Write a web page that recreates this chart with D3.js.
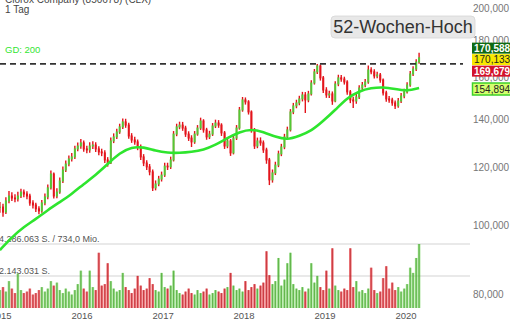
<!DOCTYPE html>
<html><head><meta charset="utf-8">
<script src="https://cdn.jsdelivr.net/npm/d3@7"></script>
<style>
body{margin:0;background:#fff;overflow:hidden}
svg{display:block}
text{font-family:"Liberation Sans",Arial,sans-serif}
</style>
</head><body>
<svg id="c" width="510" height="320"></svg>
<script>
// ---------- data ----------
const titleText = "Clorox Company (850678) (CLX)";
const periodText = "1 Tag";
const maLabel = "GD: 200";
const highLabel = "52-Wochen-Hoch";
const startDate = new Date(2014, 11, 27);
const stepDays = 13.5;
// closing prices (bi-weekly samples)
const closes = [
105.9,104.2,108.0,109.7,109.0,108.7,109.7,111.1,110.4,109.7,
107.3,106.6,105.3,104.6,107.3,109.4,112.6,117.7,109.7,111.1,
115.1,119.2,121.5,123.5,124.3,127.5,128.7,130.0,127.5,127.1,
128.7,129.1,127.5,126.3,125.9,123.1,121.9,130.8,132.5,134.6,
136.8,139.0,137.6,132.9,131.2,130.4,128.3,124.3,121.9,120.4,
118.5,112.6,114.0,115.8,117.3,120.7,120.4,123.1,133.7,136.8,
137.6,136.3,133.7,132.0,130.4,133.7,136.3,139.4,135.5,132.5,
133.7,137.2,138.5,137.6,134.2,128.7,130.8,125.9,132.0,136.3,
144.4,149.1,148.2,143.5,135.5,128.7,130.8,130.0,127.1,123.1,
115.5,118.1,121.1,125.5,128.3,132.5,135.5,143.5,146.3,147.7,
149.6,151.5,149.1,152.0,157.4,163.1,166.2,160.0,153.9,151.5,
152.0,148.6,156.9,160.0,159.4,157.9,153.0,149.1,148.6,150.5,
154.9,156.4,157.9,164.1,163.1,161.0,161.5,158.9,152.5,149.6,
149.1,147.7,146.3,148.6,151.0,153.0,156.4,162.0,164.6,168.3,
170.588];
const highs = [
107.6,107.0,109.3,111.5,111.0,110.3,111.2,112.3,112.0,111.4,
110.5,108.2,107.4,106.2,108.3,110.6,113.8,119.0,118.3,112.5,
116.4,120.5,122.9,124.9,125.9,128.8,130.2,131.6,131.0,128.8,
130.3,130.7,130.3,128.6,127.6,127.0,124.2,132.2,134.0,136.0,
138.2,140.5,140.4,138.6,134.1,132.6,131.4,129.3,125.4,123.0,
121.5,119.4,115.3,117.0,118.6,122.0,122.0,124.4,135.0,138.2,
139.1,139.0,137.3,134.9,133.2,135.0,137.6,140.9,140.2,136.4,
135.1,138.5,140.0,139.8,138.4,135.0,132.1,131.6,133.3,137.6,
145.8,150.5,150.3,149.0,144.2,136.3,132.2,132.3,131.0,128.0,
123.9,119.4,122.4,126.8,129.6,133.8,136.9,144.8,147.7,149.2,
151.1,153.0,152.9,153.5,158.8,164.6,167.3,167.0,160.9,155.3,
153.6,153.2,158.3,161.6,161.5,160.6,158.8,153.9,150.6,152.0,
156.3,157.9,159.4,166.4,165.5,164.4,163.1,162.5,159.7,153.5,
151.0,150.2,148.8,150.0,152.4,154.5,157.8,163.5,166.0,169.8,
173.3];
const lows = [
104.0,102.7,103.6,107.2,108.0,107.5,107.8,109.0,109.3,108.6,
106.3,105.4,104.2,103.5,104.0,106.5,108.6,112.0,108.8,108.9,
110.5,114.4,118.4,120.6,122.5,123.5,126.6,127.6,126.4,125.8,
126.0,127.5,126.3,125.0,124.6,121.9,120.5,121.5,129.9,131.6,
133.8,135.9,136.4,131.7,130.0,129.2,127.0,123.1,120.7,119.2,
117.2,111.5,111.7,113.2,114.9,116.6,119.2,119.6,122.5,132.8,
135.8,135.1,132.5,130.8,128.3,129.6,133.0,135.5,134.3,131.3,
131.6,132.9,136.3,136.4,132.9,127.5,127.8,124.7,125.3,131.2,
135.6,143.6,146.9,142.3,134.3,127.5,127.8,128.8,125.9,121.6,
113.6,114.5,117.3,120.3,124.6,127.4,131.6,134.8,142.5,145.2,
146.6,148.4,143.0,148.0,151.2,156.6,162.0,158.6,152.5,150.1,
150.0,146.8,148.0,155.8,158.0,156.6,151.6,147.6,145.3,147.3,
149.6,153.8,155.3,157.0,161.9,159.7,159.8,157.5,151.2,148.3,
147.8,146.4,144.9,145.4,147.7,149.9,152.2,155.5,161.0,163.6,
167.4];
// 200-day moving average (every 4th sample)
const ma200 = [
92.3,96.2,99.4,101.9,104.9,107.6,110.4,114.0,117.3,121.5,
125.9,128.3,128.3,126.7,125.9,125.9,126.3,127.1,129.1,132.0,
134.6,135.9,134.6,132.5,131.2,132.9,135.0,139.4,144.4,150.1,
153.4,154.9,155.4,154.4,153.4,154.894];
// volume in million shares
const volumes = [
1.2,1.4,1.1,1.8,1.3,1.0,2.3,1.2,1.0,1.1,
1.3,0.9,1.0,1.2,1.4,1.1,1.3,1.8,1.5,1.7,
1.2,1.0,1.3,1.1,0.9,1.2,1.6,2.5,1.3,1.1,
2.5,1.4,1.2,3.7,1.5,1.6,3.0,1.8,1.3,1.1,
1.2,2.35,1.4,1.2,1.0,1.3,2.15,1.5,1.2,1.3,
2.0,1.6,1.2,1.1,2.35,1.4,1.3,1.5,2.5,1.2,
1.0,0.9,1.1,1.3,1.0,0.9,1.2,1.0,1.1,1.3,
0.9,1.0,1.2,1.1,1.0,1.3,1.4,2.35,1.5,1.2,
1.3,1.1,1.8,1.2,1.4,1.6,1.3,1.5,1.7,3.8,
2.2,1.6,1.8,3.35,1.5,1.9,3.0,3.7,1.6,1.3,
1.2,1.4,1.1,1.3,3.0,1.7,2.15,1.4,1.2,2.5,
1.3,4.0,1.5,1.2,1.1,1.3,1.2,4.0,1.4,1.8,
1.1,1.2,1.0,1.3,2.7,1.2,1.0,1.1,2.0,2.8,
1.3,1.7,1.2,1.4,1.1,1.3,1.6,2.7,2.35,3.35,
4.286063];
const turnoverText = "734,0 Mio.";
const yTicks = [80,100,120,140,160,180,200];
const xTickYears = [2015,2016,2017,2018,2019,2020];
const high52 = 167.26;
const quoteValues = [170.588, 170.133, 169.679];
const maLast = 154.894;

// ---------- setup ----------
const de = d3.formatLocale({decimal:",", thousands:".", grouping:[3], currency:["","€"]});
const fmtP = de.format(".3f");
const fmtV = de.format(",d");

const svg = d3.select("#c");
const dates = closes.map((_, i) => d3.timeDay.offset(startDate, Math.round(i * stepDays)));
const maDates = dates.filter((_, i) => i % 4 === 0);

const x = d3.scaleTime().domain([new Date(2015,0,1), new Date(2020,0,1)]).range([1, 406]);
const y = d3.scaleLog().domain([100, 200]).range([225, 8]);
const vMax = d3.max(volumes);
const yv = d3.scaleLinear().domain([0, vMax]).range([308, 244]);

const RED = "#e3141b", GREEN = "#52c935";

// volume grid lines
[vMax, vMax/2].forEach(v => {
  svg.append("line").attr("x1",0).attr("x2",470).attr("y1",yv(v)).attr("y2",yv(v))
    .attr("stroke","#e2e2e2").attr("stroke-width",1.5);
});
svg.append("text").attr("x",-1).attr("y",yv(vMax)-2).attr("font-size",9).attr("fill","#555")
  .text(fmtV(Math.round(vMax*1e6)) + " S. / " + turnoverText);
svg.append("text").attr("x",-1).attr("y",yv(vMax/2)-2).attr("font-size",9).attr("fill","#555")
  .text(fmtV(Math.floor(vMax*1e6/2)) + " S.");

// volume bars
const vg = svg.append("g");
volumes.forEach((v, i) => {
  const up = i === 0 ? true : closes[i] >= closes[i-1];
  vg.append("rect").attr("x", x(dates[i]) - 1.3).attr("width", 2.6)
    .attr("y", yv(v)).attr("height", yv(0) - yv(v))
    .attr("fill", up ? GREEN : RED).attr("fill-opacity", 0.55);
  vg.append("rect").attr("x", x(dates[i]) - 0.6).attr("width", 1.2)
    .attr("y", yv(v)).attr("height", yv(0) - yv(v))
    .attr("fill", up ? "#3a9a22" : "#b3121a").attr("fill-opacity", 0.6);
});

// price bars (open = previous close)
const pg = svg.append("g");
closes.forEach((c, i) => {
  const o = i === 0 ? c : closes[i-1];
  const col = c >= o ? GREEN : RED;
  const cx = x(dates[i]);
  pg.append("line").attr("x1",cx).attr("x2",cx).attr("y1",y(highs[i])).attr("y2",y(lows[i]))
    .attr("stroke", RED).attr("stroke-width", 1.4);
  const y1 = Math.min(y(o), y(c)), y2 = Math.max(y(o), y(c));
  pg.append("rect").attr("x", cx - 1.0).attr("width", 2.0)
    .attr("y", y1 - 0.5).attr("height", Math.max(1.5, y2 - y1 + 1))
    .attr("fill", col);
});

// moving average
svg.append("path").datum(ma200)
  .attr("d", d3.line().x((d,i) => x(maDates[i])).y(d => y(d)).curve(d3.curveBasis))
  .attr("fill","none").attr("stroke","#2ee52e").attr("stroke-width",2.6);

// 52-week-high dashed line
svg.append("line").attr("x1",0).attr("x2",463).attr("y1",y(high52)).attr("y2",y(high52))
  .attr("stroke","#333").attr("stroke-width",1.8).attr("stroke-dasharray","6,4");

// right axis labels
yTicks.forEach(t => {
  svg.append("text").attr("x",473).attr("y",y(t)).attr("dy","0.35em")
    .attr("font-size",10).attr("fill","#777").text(fmtP(t));
});

// x axis labels
xTickYears.forEach(yr => {
  svg.append("text").attr("x", x(new Date(yr,0,1))).attr("y",319).attr("text-anchor","middle")
    .attr("font-size",9.5).attr("fill","#555").text(yr);
});

// quote boxes
const qStyles = [
  {fill:"#0f6a12", text:"#fff", off:-11.5},
  {fill:"#f7e800", text:"#222", off:0},
  {fill:"#d3122b", text:"#fff", off:11.5}
];
const mid = y(quoteValues[1]) + 1;
quoteValues.forEach((q, i) => {
  const cy = mid + qStyles[i].off;
  svg.append("rect").attr("x",472).attr("y",cy-5.5).attr("width",40).attr("height",11)
    .attr("fill",qStyles[i].fill);
  svg.append("text").attr("x",474).attr("y",cy).attr("dy","0.36em").attr("font-size",10)
    .attr("font-weight", qStyles[i].text === "#fff" ? "bold" : "normal")
    .attr("fill",qStyles[i].text).text(fmtP(q));
});
{
  const cy = y(maLast) + 1;
  svg.append("rect").attr("x",472.5).attr("y",cy-6).attr("width",40).attr("height",12)
    .attr("fill","#d4ff6e").attr("stroke","#3fd12a").attr("stroke-width",1.5);
  svg.append("text").attr("x",474).attr("y",cy).attr("dy","0.36em").attr("font-size",10)
    .attr("fill","#222").text(fmtP(maLast));
}

// 52-week-high label
const hl = svg.append("g");
hl.append("rect").attr("x",331).attr("y",16).attr("width",144).attr("height",22).attr("rx",4)
  .attr("fill","#e8e8e8").attr("stroke","#d6d6d6").attr("stroke-width",0.8);
hl.append("text").attr("x",403).attr("y",27).attr("dy","0.36em").attr("text-anchor","middle")
  .attr("font-size",18).attr("fill","#333").text(highLabel);

// titles
svg.append("text").attr("x",5).attr("y",3).attr("font-size",10).attr("fill","#444").text(titleText);
svg.append("text").attr("x",5).attr("y",13).attr("font-size",10).attr("fill","#444").text(periodText);
svg.append("text").attr("x",5).attr("y",52.5).attr("font-size",9.5).attr("fill","#33e633").text(maLabel);
</script>
</body></html>
